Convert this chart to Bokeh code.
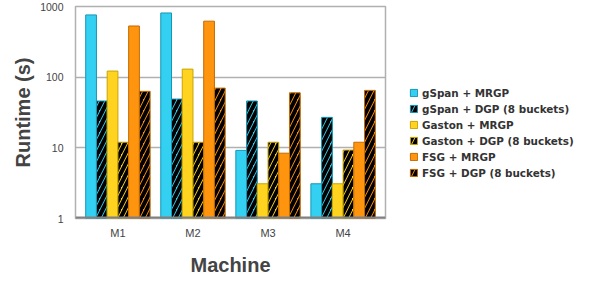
from bokeh.plotting import figure
from bokeh.models import (FactorRange, FixedTicker, PrintfTickFormatter, Legend, LegendItem,
                          Span, ColumnDataSource)
from bokeh.transform import dodge
from bokeh.embed import file_html
from bokeh.resources import INLINE

machines = ["M1", "M2", "M3", "M4"]
series_names = ["gSpan + MRGP", "gSpan + DGP (8 buckets)", "Gaston + MRGP",
                "Gaston + DGP (8 buckets)", "FSG + MRGP", "FSG + DGP (8 buckets)"]
gspan_mrgp = [760, 810, 9.2, 3.1]
gspan_dgp = [46, 49, 46, 27]
gaston_mrgp = [122, 130, 3.1, 3.1]
gaston_dgp = [12, 12, 12, 9.3]
fsg_mrgp = [530, 620, 8.4, 12]
fsg_dgp = [63, 70, 60, 65]
yticks = [1, 10, 100, 1000]

all_series = [gspan_mrgp, gspan_dgp, gaston_mrgp, gaston_dgp, fsg_mrgp, fsg_dgp]
fills = ["#33d0f2", "#33d0f2", "#ffd320", "#ffd320", "#ff950e", "#ff950e"]
lines = ["#1596b4", "#1596b4", "#c9a400", "#c9a400", "#c26a00", "#c26a00"]
hatched = [False, True, False, True, False, True]

p = figure(frame_width=310, frame_height=212,
           x_range=FactorRange(factors=machines, range_padding=0.065,
                               range_padding_units="absolute"),
           y_axis_type="log", y_range=(1, 1000), output_backend="svg",
           toolbar_location=None, min_border_left=75, min_border_right=180,
           min_border_top=6, min_border_bottom=58)
p.background_fill_color = "white"
p.border_fill_color = "white"
p.outline_line_color = "#b0b0b0"
p.outline_line_width = 1.5

src = ColumnDataSource(dict(x=machines, **{f"s{i}": s for i, s in enumerate(all_series)}))
w = 0.143
offsets = [-0.3575, -0.2145, -0.0715, 0.0715, 0.2145, 0.3575]
items = []
for i in range(6):
    kw = dict(fill_color=fills[i], line_color=lines[i], line_width=1)
    if hatched[i]:
        kw.update(hatch_pattern="/", hatch_color="black", hatch_weight=4, hatch_scale=11)
    r = p.vbar(x=dodge("x", offsets[i], range=p.x_range), top=f"s{i}", bottom=1,
               width=w, source=src, **kw)
    items.append(LegendItem(label=series_names[i], renderers=[r]))

p.add_layout(Span(location=1, dimension="width", line_color="#808080", line_width=4))

p.xgrid.grid_line_color = None
p.ygrid.grid_line_color = "#b0b0b0"
p.ygrid.grid_line_width = 1.5
p.yaxis.ticker = FixedTicker(ticks=yticks, minor_ticks=[])
p.yaxis.formatter = PrintfTickFormatter(format="%d")
for ax in (p.xaxis[0], p.yaxis[0]):
    ax.axis_line_color = None
    ax.major_tick_line_color = None
    ax.minor_tick_line_color = None
    ax.major_tick_out = 0
    ax.major_tick_in = 0
    ax.minor_tick_out = 0
    ax.major_label_text_font = "Liberation Sans"
    ax.major_label_text_color = "#444444"
    ax.axis_label_text_font = "Liberation Sans"
    ax.axis_label_text_font_style = "bold"
    ax.axis_label_text_font_size = "20px"
    ax.axis_label_text_color = "#444444"
p.yaxis.major_label_text_font_size = "10.5px"
p.xaxis.major_label_text_font_size = "11px"
p.yaxis.axis_label = "Runtime (s)"
p.xaxis.axis_label = "Machine"
p.yaxis.major_label_standoff = 12
p.xaxis.major_label_standoff = 8
p.yaxis.axis_label_standoff = 3
p.xaxis.axis_label_standoff = 12

legend = Legend(items=items, location=(24, 39), padding=0, margin=0, spacing=3,
                label_height=13, glyph_width=9, glyph_height=9, label_standoff=4,
                label_text_font="DejaVu Sans", label_text_font_style="bold",
                label_text_font_size="10.4px", label_text_color="#333333",
                border_line_color=None, background_fill_alpha=0)
p.add_layout(legend, "right")

open("out.html", "w").write(file_html(p, INLINE))
